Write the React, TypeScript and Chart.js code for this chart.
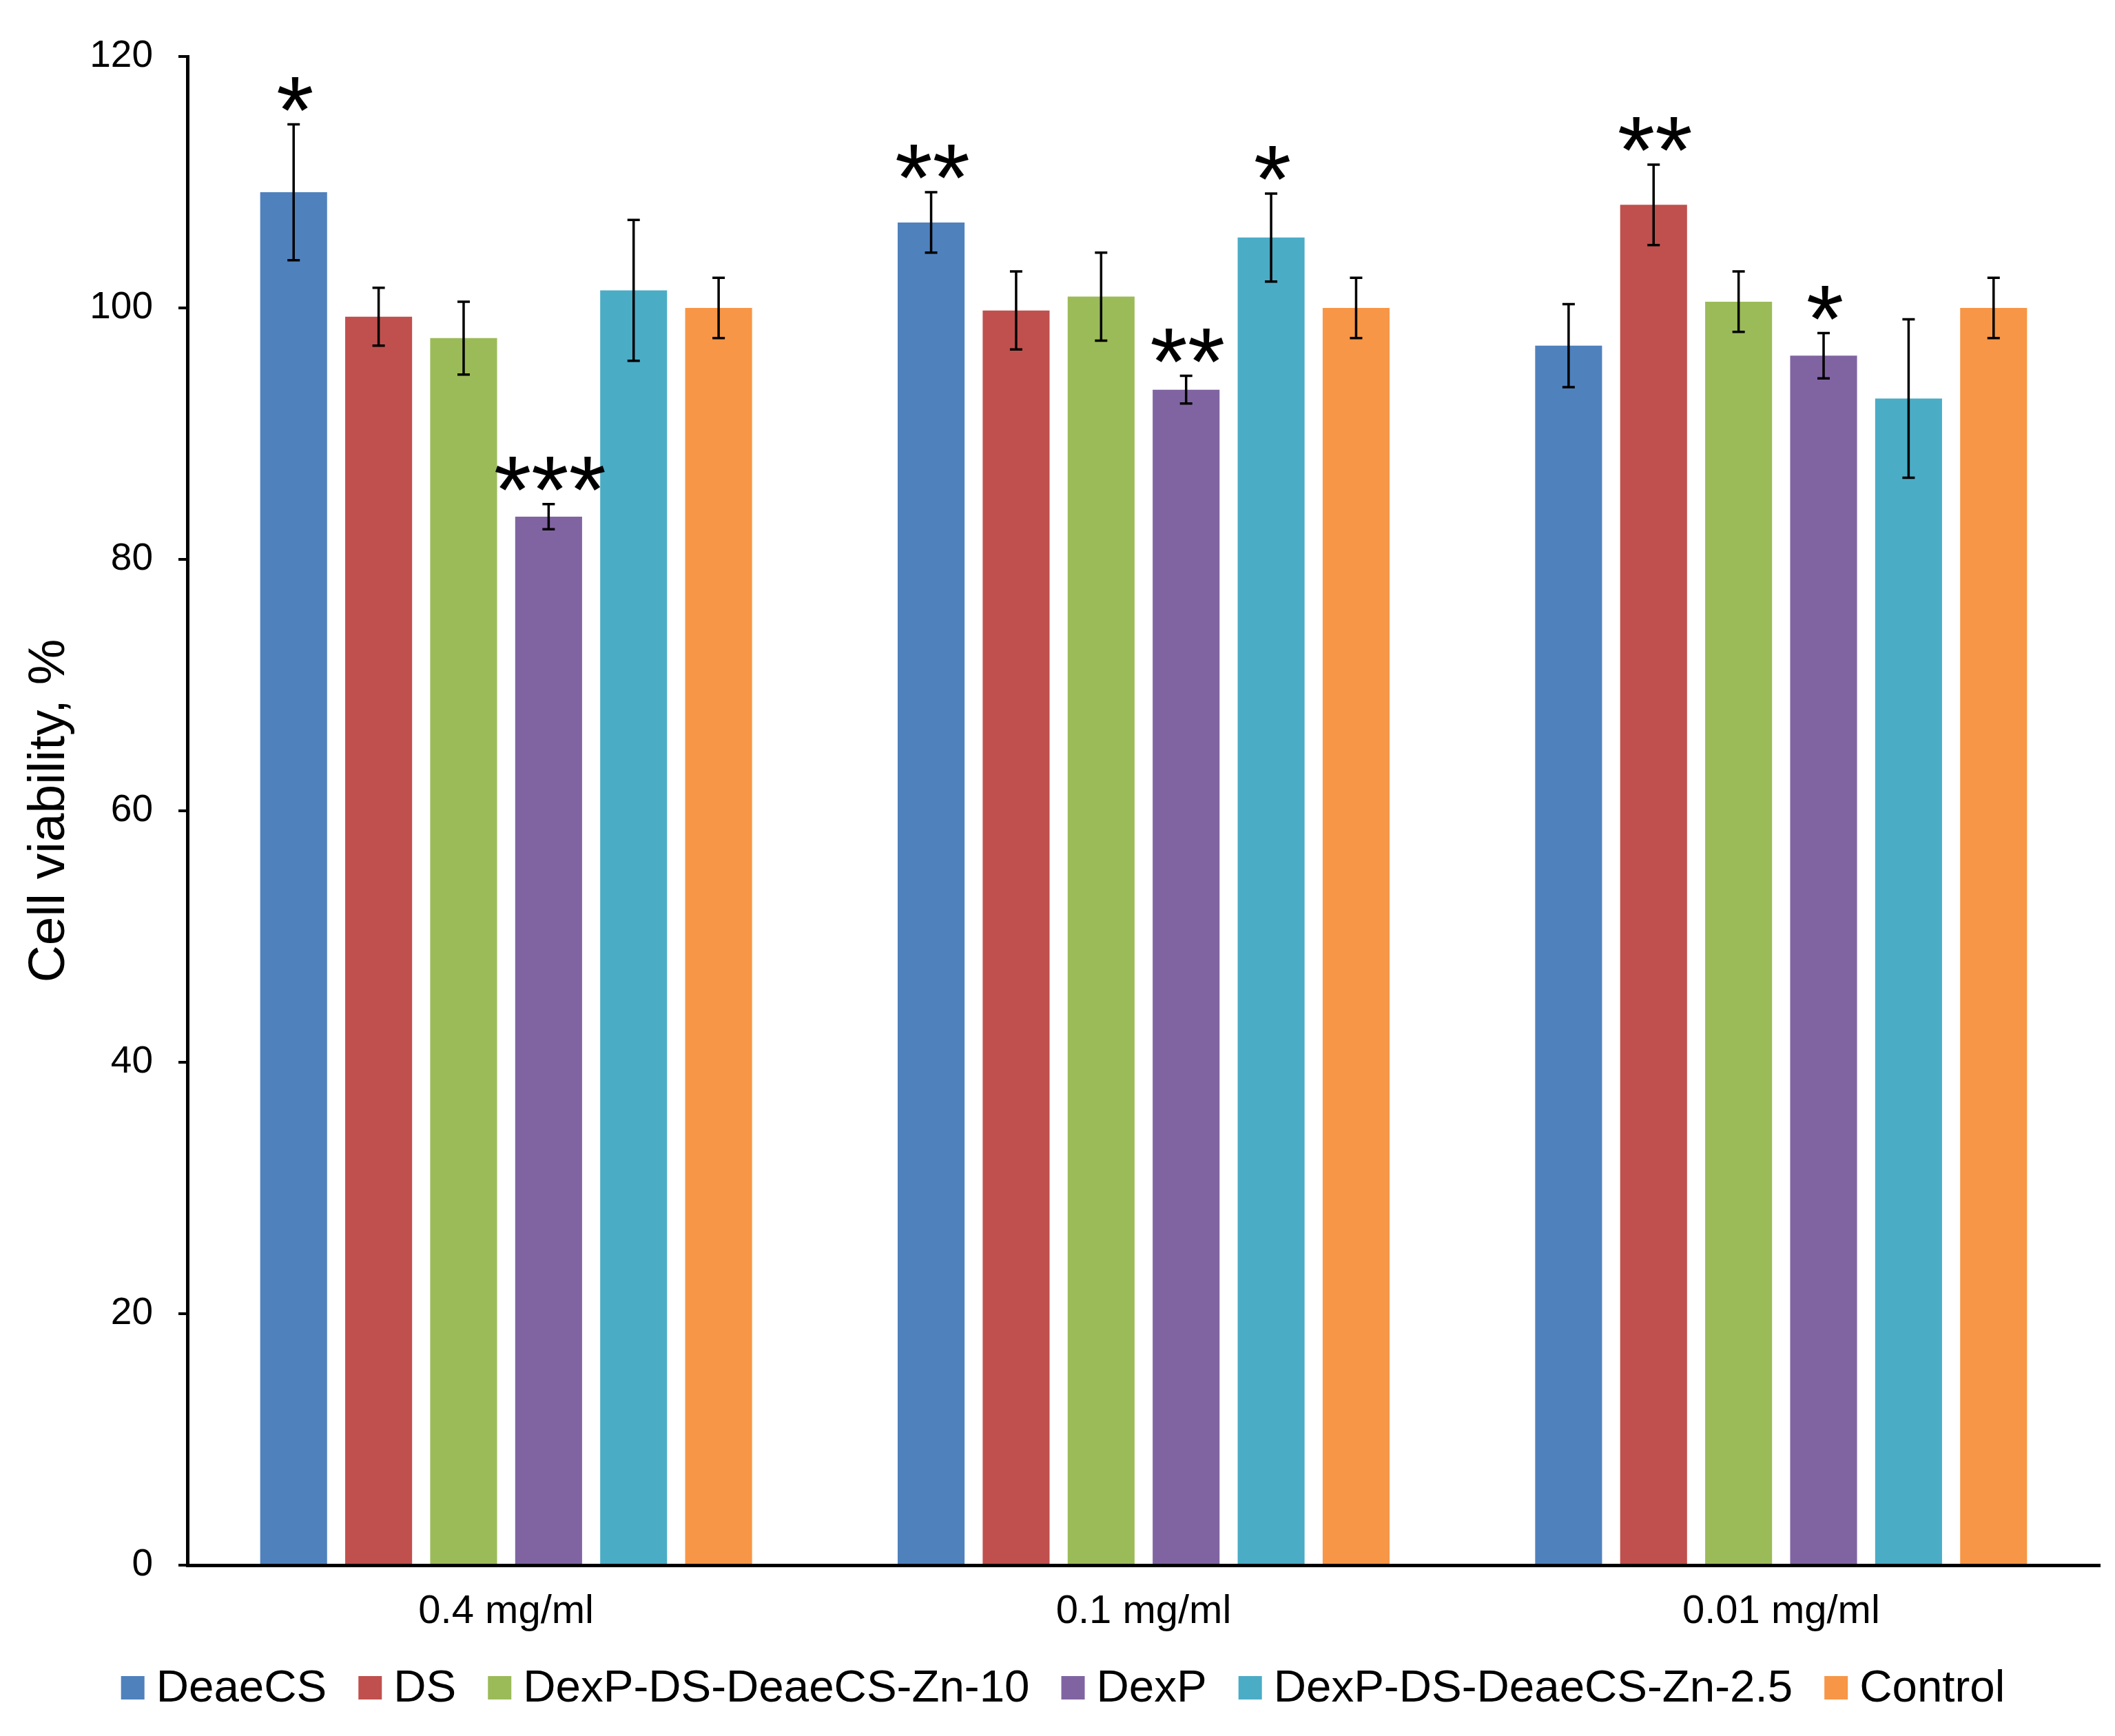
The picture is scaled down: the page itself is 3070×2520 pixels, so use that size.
import React, { useEffect, useRef } from 'react';
import { Chart, registerables } from 'chart.js';

Chart.register(...registerables);

const FONT = "'Liberation Sans', Arial, Helvetica, sans-serif";

const categories = ['0.4 mg/ml', '0.1 mg/ml', '0.01 mg/ml'];
const seriesNames = ['DeaeCS', 'DS', 'DexP-DS-DeaeCS-Zn-10', 'DexP', 'DexP-DS-DeaeCS-Zn-2.5', 'Control'];
const seriesColors = ['#4F81BD', '#C0504D', '#9BBB59', '#8064A2', '#4BACC6', '#F79646'];

const deaeCS = [109.2, 106.8, 97.0];
const ds = [99.3, 99.8, 108.2];
const zn10 = [97.6, 100.9, 100.5];
const dexP = [83.4, 93.5, 96.2];
const zn25 = [101.4, 105.6, 92.8];
const control = [100.0, 100.0, 100.0];

const deaeCSErr = [5.4, 2.4, 3.3];
const dsErr = [2.3, 3.1, 3.2];
const zn10Err = [2.9, 3.5, 2.4];
const dexPErr = [1.0, 1.1, 1.8];
const zn25Err = [5.6, 3.5, 6.3];
const controlErr = [2.4, 2.4, 2.4];

const deaeCSSig = ['*', '**', ''];
const dsSig = ['', '', '**'];
const zn10Sig = ['', '', ''];
const dexPSig = ['***', '**', '*'];
const zn25Sig = ['', '*', ''];
const controlSig = ['', '', ''];

const yTicks = [0, 20, 40, 60, 80, 100, 120];
const yTitle = 'Cell viability, %';

const seriesValues = [deaeCS, ds, zn10, dexP, zn25, control];
const seriesErrors = [deaeCSErr, dsErr, zn10Err, dexPErr, zn25Err, controlErr];
const seriesSig = [deaeCSSig, dsSig, zn10Sig, dexPSig, zn25Sig, controlSig];

const W = 3070;
const H = 2520;

const errorBarPlugin = {
  id: 'errorBars',
  afterDatasetsDraw(chart: any) {
    const { ctx } = chart;
    const yScale = chart.scales.y;
    ctx.save();
    chart.data.datasets.forEach((dset: any, i: number) => {
      const meta = chart.getDatasetMeta(i);
      meta.data.forEach((bar: any, j: number) => {
        const v = dset.data[j];
        const e = dset.errors[j];
        const x = bar.x;
        const yT = yScale.getPixelForValue(v + e);
        const yB = yScale.getPixelForValue(v - e);
        ctx.strokeStyle = '#000';
        ctx.lineWidth = 3.5;
        ctx.beginPath();
        ctx.moveTo(x, yT);
        ctx.lineTo(x, yB);
        ctx.moveTo(x - 9, yT);
        ctx.lineTo(x + 9, yT);
        ctx.moveTo(x - 9, yB);
        ctx.lineTo(x + 9, yB);
        ctx.stroke();
        const s = dset.sig[j];
        if (s) {
          ctx.font = `140px ${FONT}`;
          ctx.fillStyle = '#000';
          ctx.textAlign = 'center';
          ctx.textBaseline = 'alphabetic';
          ctx.fillText(s, x + 2, yT + 27);
        }
      });
    });
    ctx.restore();
  },
};

const legendPlugin = {
  id: 'customLegend',
  afterDraw(chart: any) {
    const { ctx } = chart;
    ctx.save();
    ctx.font = `65.5px ${FONT}`;
    const box = 34;
    const gapText = 17;
    const gapItem = 46;
    const items = chart.data.datasets.map((d: any) => ({
      label: d.label,
      color: d.backgroundColor,
      w: ctx.measureText(d.label).width,
    }));
    const total = items.reduce((a: number, it: any) => a + box + gapText + it.w, 0) + gapItem * (items.length - 1);
    let x = chart.width / 2 + 8 - total / 2;
    const boxTop = chart.height - 87;
    const baseline = chart.height - 50;
    items.forEach((it: any) => {
      ctx.fillStyle = it.color;
      ctx.fillRect(x, boxTop, box, box);
      x += box + gapText;
      ctx.fillStyle = '#000';
      ctx.textAlign = 'left';
      ctx.textBaseline = 'alphabetic';
      ctx.fillText(it.label, x, baseline);
      x += it.w + gapItem;
    });
    ctx.restore();
  },
};

export default function App() {
  const canvasRef = useRef<HTMLCanvasElement | null>(null);

  useEffect(() => {
    if (!canvasRef.current) return;
    Chart.defaults.font.family = FONT;
    const chart = new Chart(canvasRef.current, {
      type: 'bar',
      data: {
        labels: categories,
        datasets: seriesNames.map((name, i) => ({
          label: name,
          data: seriesValues[i],
          errors: seriesErrors[i],
          sig: seriesSig[i],
          backgroundColor: seriesColors[i],
          borderWidth: 0,
          categoryPercentage: 0.8,
          barPercentage: 0.787,
        })) as any,
      },
      options: {
        responsive: true,
        maintainAspectRatio: false,
        animation: false,
        devicePixelRatio: 1,
        layout: { padding: { top: 82, right: 22, left: 0, bottom: 0 } },
        plugins: {
          legend: { display: false },
          tooltip: { enabled: false },
        },
        scales: {
          x: {
            grid: { display: false, drawTicks: false },
            border: { display: true, color: '#000', width: 5 },
            ticks: { font: { size: 58, family: FONT }, color: '#000', padding: 33 },
            afterFit: (s: any) => {
              s.height = 248;
            },
          },
          y: {
            min: yTicks[0],
            max: yTicks[yTicks.length - 1],
            afterBuildTicks: (s: any) => {
              s.ticks = yTicks.map((v) => ({ value: v }));
            },
            ticks: { font: { size: 55, family: FONT }, color: '#000', padding: 37 },
            grid: {
              display: true,
              drawOnChartArea: false,
              drawTicks: true,
              tickLength: 13,
              tickWidth: 4,
              lineWidth: 4,
              tickColor: '#000',
              color: '#000',
            },
            border: { display: true, color: '#000', width: 5 },
            title: {
              display: true,
              text: yTitle,
              font: { size: 75, family: FONT },
              color: '#000',
              padding: { top: 27, bottom: 0 },
            },
            afterFit: (s: any) => {
              s.width = 272;
            },
          },
        },
      } as any,
      plugins: [errorBarPlugin, legendPlugin],
    });
    return () => chart.destroy();
  }, []);

  return (
    <div style={{ position: 'fixed', left: 0, top: 0, width: W, height: H, background: '#fff' }}>
      <canvas ref={canvasRef} />
    </div>
  );
}
